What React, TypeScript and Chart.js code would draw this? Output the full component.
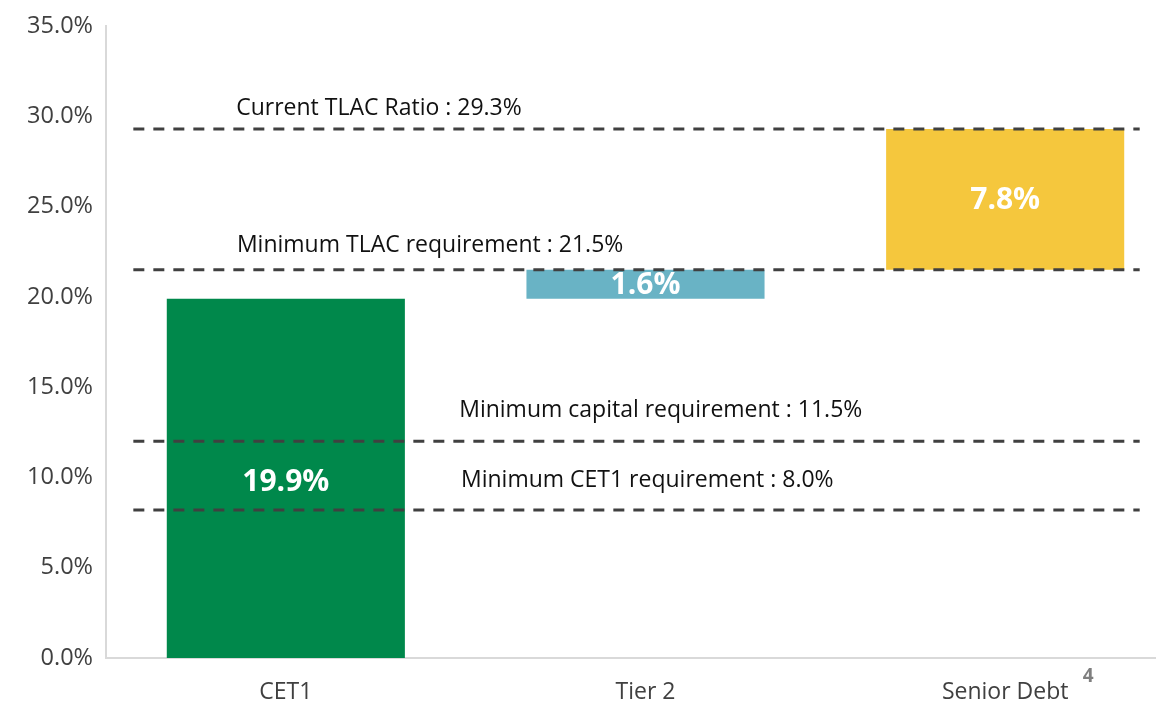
import React, { useEffect, useRef } from "react";
import { Chart, registerables } from "chart.js";

Chart.register(...registerables);

const categories = ["CET1", "Tier 2", "Senior Debt"];
const barStarts = [0, 19.9, 21.5];
const barEnds = [19.9, 21.5, 29.3];
const barColors = ["#00884B", "#69B3C5", "#F5C73D"];
const yTicks = [0, 5, 10, 15, 20, 25, 30, 35];

const refLineValues = [29.3, 21.5, 12.0, 8.2];
const refLineLabels = [
  "Current TLAC Ratio : 29.3%",
  "Minimum TLAC requirement : 21.5%",
  "Minimum capital requirement : 11.5%",
  "Minimum CET1 requirement : 8.0%",
];

const FONT = "'Open Sans', 'Noto Sans', sans-serif";

// layout helpers (not data)
const lineFrom = -0.424;
const lineTo = 2.374;
const labelStarts = [-0.138, -0.136, 0.482, 0.487];
const labelOffsets = [20, 24, 31, 29];

const overlayPlugin = {
  id: "overlay",
  afterDatasetsDraw(chart: any) {
    const ctx = chart.ctx;
    const y = chart.scales.y;
    const x2 = chart.scales.x2;
    ctx.save();
    ctx.font = `23px ${FONT}`;
    ctx.fillStyle = "#111111";
    ctx.textAlign = "left";
    ctx.textBaseline = "middle";
    refLineLabels.forEach((t, i) => {
      ctx.fillText(t, x2.getPixelForValue(labelStarts[i]), y.getPixelForValue(refLineValues[i]) - labelOffsets[i]);
    });
    const meta = chart.getDatasetMeta(0);
    ctx.font = `bold 30px ${FONT}`;
    ctx.fillStyle = "#FFFFFF";
    ctx.textAlign = "center";
    meta.data.forEach((el: any, i: number) => {
      const v = barEnds[i] - barStarts[i];
      const cy = (el.y + el.base) / 2 + (i === 0 ? 4 : 1);
      ctx.fillText(v.toFixed(1) + "%", el.x, cy);
    });
    const xs = chart.scales.x;
    ctx.font = `bold 19px ${FONT}`;
    ctx.fillStyle = "#7F7F7F";
    ctx.fillText("4", xs.getPixelForValue(2) + 83, chart.chartArea.bottom + 19);
    ctx.restore();
  },
};

export default function App() {
  const ref = useRef<HTMLCanvasElement>(null);
  useEffect(() => {
    if (!ref.current) return;
    const lineDatasets = refLineValues.map((v) => ({
      type: "line" as const,
      xAxisID: "x2",
      yAxisID: "y",
      data: [
        { x: lineFrom, y: v },
        { x: lineTo, y: v },
      ],
      borderColor: "#404040",
      borderWidth: 3,
      borderDash: [11, 9],
      pointRadius: 0,
      fill: false,
      order: 0,
    }));
    const chart = new Chart(ref.current, {
      type: "bar",
      data: {
        labels: categories,
        datasets: [
          {
            type: "bar",
            xAxisID: "x",
            yAxisID: "y",
            data: barStarts.map((s, i) => [s, barEnds[i]]),
            backgroundColor: barColors,
            barPercentage: 0.662,
            categoryPercentage: 1,
            grouped: false,
            order: 1,
          } as any,
          ...lineDatasets,
        ],
      },
      options: {
        animation: false,
        responsive: false,
        devicePixelRatio: 1,
        layout: { padding: { top: 26, right: 0, left: 0, bottom: 0 } },
        plugins: { legend: { display: false }, tooltip: { enabled: false } },
        scales: {
          x: {
            type: "category",
            offset: true,
            grid: { display: false },
            border: { display: true, color: "#D9D9D9", width: 2 },
            ticks: { color: "#404040", font: { family: FONT, size: 23 }, padding: 13 },
            afterFit: (s: any) => {
              s.height = 44;
            },
          },
          x2: { type: "linear", min: -0.5, max: 2.5, offset: false, display: false, grid: { offset: false } },
          y: {
            min: 0,
            max: 35,
            afterBuildTicks: (s: any) => {
              s.ticks = yTicks.map((v) => ({ value: v }));
            },
            grid: { display: false },
            border: { display: true, color: "#D9D9D9", width: 2 },
            ticks: {
              color: "#404040",
              font: { family: FONT, size: 23.5 },
              padding: 5,
              callback: (v: any) => Number(v).toFixed(1) + "%",
            },
            afterFit: (s: any) => {
              s.width = 106;
            },
          },
        },
      },
      plugins: [overlayPlugin],
    });
    return () => chart.destroy();
  }, []);
  return (
    <div style={{ position: "absolute", left: 0, top: 0, width: 1156, height: 702, overflow: "hidden", background: "#fff" }}>
      <canvas ref={ref} width={1185} height={702} style={{ display: "block" }} />
    </div>
  );
}
